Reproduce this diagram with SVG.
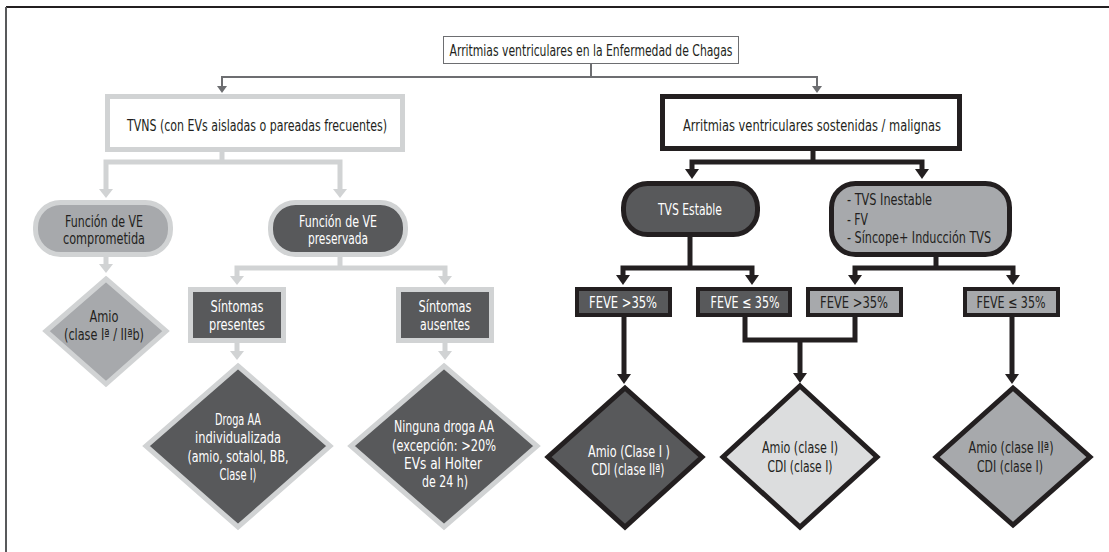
<svg xmlns="http://www.w3.org/2000/svg" width="1109" height="552" viewBox="0 0 1109 552">
<style>
.t{font-family:"Liberation Sans Narrow","DejaVu Sans Condensed","Liberation Sans",sans-serif;font-size:16px;text-anchor:middle}
.w{fill:#ffffff}
.k{fill:#231f20}
.lg{fill:none;stroke:#d1d3d4;stroke-width:5}
.bk{fill:none;stroke:#231f20;stroke-width:5}
.gr{fill:none;stroke:#6d6e71;stroke-width:2}
.nlg{stroke:#d1d3d4;stroke-width:5}
.nbk{stroke:#231f20;stroke-width:5}
.dark{fill:#58595b}
.mid{fill:#a7a9ac}
.light{fill:#dcddde}
</style>
<defs>
<marker id="aGR" markerUnits="userSpaceOnUse" markerWidth="20" markerHeight="20" refX="0" refY="0" orient="auto-start-reverse" overflow="visible"><path d="M0,-5 L7,0 L0,5 z" fill="#6d6e71"/></marker>
<marker id="aLG" markerUnits="userSpaceOnUse" markerWidth="20" markerHeight="20" refX="0" refY="0" orient="auto-start-reverse" overflow="visible"><path d="M0,-7 L9,0 L0,7 z" fill="#d1d3d4"/></marker>
<marker id="aBK" markerUnits="userSpaceOnUse" markerWidth="20" markerHeight="20" refX="0" refY="0" orient="auto-start-reverse" overflow="visible"><path d="M0,-7 L10,0 L0,7 z" fill="#231f20"/></marker>
</defs>
<rect x="0" y="0" width="1109" height="552" fill="#ffffff"/>
<g id="frame">
<path d="M6,7 H1109" stroke="#231f20" stroke-width="2" fill="none"/>
<path d="M6,7 V552" stroke="#58595b" stroke-width="2" fill="none"/>
</g>
<g id="connectors">
<path class="gr" d="M591,64 V77"/>
<path class="gr" d="M222,86 V77 H817 V86" marker-start="url(#aGR)" marker-end="url(#aGR)"/>
<path class="lg" d="M222,152 V162"/>
<path class="lg" d="M106,189 V162 H340 V189" marker-start="url(#aLG)" marker-end="url(#aLG)"/>
<path class="lg" d="M106,257 V264" marker-end="url(#aLG)"/>
<path class="lg" d="M340,257 V268"/>
<path class="lg" d="M237,276 V268 H445 V276" marker-start="url(#aLG)" marker-end="url(#aLG)"/>
<path class="lg" d="M237,343 V351" marker-end="url(#aLG)"/>
<path class="lg" d="M445,343 V351" marker-end="url(#aLG)"/>
<path class="bk" d="M813,151 V162"/>
<path class="bk" d="M692,169 V162 H922 V169" marker-start="url(#aBK)" marker-end="url(#aBK)"/>
<path class="bk" d="M690,237 V268"/>
<path class="bk" d="M623,275 V268 H752 V275" marker-start="url(#aBK)" marker-end="url(#aBK)"/>
<path class="bk" d="M936,257 V268"/>
<path class="bk" d="M855,275 V268 H1013 V275" marker-start="url(#aBK)" marker-end="url(#aBK)"/>
<path class="bk" d="M624,317 V374" marker-end="url(#aBK)"/>
<path class="bk" d="M745,317 V340 H855 V317"/>
<path class="bk" d="M800,340 V373" marker-end="url(#aBK)"/>
<path class="bk" d="M1012,317 V374" marker-end="url(#aBK)"/>
</g>
<g id="title">
<rect x="443.5" y="36.5" width="295" height="27" fill="#ffffff" stroke="#6d6e71" stroke-width="1"/>
<text class="t k" x="591" y="55.5" style="font-size:15px" textLength="283" lengthAdjust="spacingAndGlyphs">Arritmias ventriculares en la Enfermedad de Chagas</text>
</g>
<g id="tvns">
<rect x="107.5" y="96.5" width="295" height="53" fill="#ffffff" class="nlg"/>
<text class="t k" x="257" y="131" textLength="260" lengthAdjust="spacingAndGlyphs">TVNS (con EVs aisladas o pareadas frecuentes)</text>
</g>
<g id="sostenidas">
<rect x="662.5" y="96.5" width="297" height="52" fill="#ffffff" class="nbk"/>
<text class="t k" x="812" y="131" textLength="258" lengthAdjust="spacingAndGlyphs">Arritmias ventriculares sostenidas / malignas</text>
</g>
<g id="comprometida">
<rect x="35.5" y="202.5" width="135" height="52" rx="25" class="mid nlg"/>
<text class="t k" x="104" y="227" textLength="78" lengthAdjust="spacingAndGlyphs">Función de VE</text>
<text class="t k" x="104" y="244" textLength="82" lengthAdjust="spacingAndGlyphs">comprometida</text>
</g>
<g id="preservada">
<rect x="270.5" y="202.5" width="135" height="52" rx="25" class="dark nlg"/>
<text class="t w" x="338" y="227" textLength="78" lengthAdjust="spacingAndGlyphs">Función de VE</text>
<text class="t w" x="338" y="244" textLength="60" lengthAdjust="spacingAndGlyphs">preservada</text>
</g>
<g id="amio-left">
<polygon points="106,279 166,331 106,384 46,331" class="mid nlg"/>
<text class="t k" x="104" y="322" textLength="29" lengthAdjust="spacingAndGlyphs">Amio</text>
<text class="t k" x="104" y="340" textLength="80" lengthAdjust="spacingAndGlyphs">(clase Iª / IIªb)</text>
</g>
<g id="presentes">
<rect x="190.5" y="289.5" width="93" height="51" class="dark nlg"/>
<text class="t w" x="237" y="312" textLength="53" lengthAdjust="spacingAndGlyphs">Síntomas</text>
<text class="t w" x="237" y="330" textLength="56" lengthAdjust="spacingAndGlyphs">presentes</text>
</g>
<g id="ausentes">
<rect x="398.5" y="289.5" width="93" height="51" class="dark nlg"/>
<text class="t w" x="445" y="312" textLength="53" lengthAdjust="spacingAndGlyphs">Síntomas</text>
<text class="t w" x="445" y="330" textLength="50" lengthAdjust="spacingAndGlyphs">ausentes</text>
</g>
<g id="droga">
<polygon points="238,366 330,446 238,527 146,446" class="dark nlg"/>
<text class="t w" x="238" y="425" textLength="46" lengthAdjust="spacingAndGlyphs">Droga AA</text>
<text class="t w" x="238" y="443" textLength="86" lengthAdjust="spacingAndGlyphs">individualizada</text>
<text class="t w" x="238" y="462" textLength="101" lengthAdjust="spacingAndGlyphs">(amio, sotalol, BB,</text>
<text class="t w" x="238" y="480" textLength="37" lengthAdjust="spacingAndGlyphs">Clase I)</text>
</g>
<g id="ninguna">
<polygon points="444,366 537,446 444,527 351,446" class="dark nlg"/>
<text class="t w" x="444" y="432" textLength="100" lengthAdjust="spacingAndGlyphs">Ninguna droga AA</text>
<text class="t w" x="444" y="451" textLength="104" lengthAdjust="spacingAndGlyphs">(excepción: &gt;20%</text>
<text class="t w" x="443" y="469" textLength="78" lengthAdjust="spacingAndGlyphs">EVs al Holter</text>
<text class="t w" x="445" y="487" textLength="46" lengthAdjust="spacingAndGlyphs">de 24 h)</text>
</g>
<g id="tvs-estable">
<rect x="623.5" y="183.5" width="134" height="51" rx="24" class="dark nbk"/>
<text class="t w" x="690" y="215" textLength="64" lengthAdjust="spacingAndGlyphs">TVS Estable</text>
</g>
<g id="tvs-inestable">
<rect x="831.5" y="183.5" width="178" height="71" rx="24" class="mid nbk"/>
<text class="t k" x="847" y="205" style="text-anchor:start" textLength="85" lengthAdjust="spacingAndGlyphs">- TVS Inestable</text>
<text class="t k" x="847" y="225" style="text-anchor:start" textLength="21" lengthAdjust="spacingAndGlyphs">- FV</text>
<text class="t k" x="847" y="243" style="text-anchor:start" textLength="144" lengthAdjust="spacingAndGlyphs">- Síncope+ Inducción TVS</text>
</g>
<g id="feve1">
<rect x="577" y="289" width="93" height="26" class="dark" stroke="#231f20" stroke-width="4"/>
<text class="t w" x="623" y="308" textLength="68" lengthAdjust="spacingAndGlyphs">FEVE &gt;35%</text>
</g>
<g id="feve2">
<rect x="698" y="289" width="92" height="26" class="dark" stroke="#231f20" stroke-width="4"/>
<text class="t w" x="745" y="308" textLength="69" lengthAdjust="spacingAndGlyphs">FEVE ≤ 35%</text>
</g>
<g id="feve3">
<rect x="808" y="289" width="93" height="26" class="mid" stroke="#231f20" stroke-width="4"/>
<text class="t k" x="854" y="308" textLength="68" lengthAdjust="spacingAndGlyphs">FEVE &gt;35%</text>
</g>
<g id="feve4">
<rect x="965" y="289" width="93" height="26" class="mid" stroke="#231f20" stroke-width="4"/>
<text class="t k" x="1011" y="308" textLength="69" lengthAdjust="spacingAndGlyphs">FEVE ≤ 35%</text>
</g>
<g id="result1">
<polygon points="625,388 702,457 625,527 548,457" class="dark nbk"/>
<text class="t w" x="629" y="457" textLength="82" lengthAdjust="spacingAndGlyphs">Amio (Clase I )</text>
<text class="t w" x="628" y="475" textLength="73" lengthAdjust="spacingAndGlyphs">CDI (clase IIª)</text>
</g>
<g id="result2">
<polygon points="800,386 877,457 800,527 723,457" class="light nbk"/>
<text class="t k" x="800" y="453" textLength="76" lengthAdjust="spacingAndGlyphs">Amio (clase I)</text>
<text class="t k" x="800" y="472" textLength="65" lengthAdjust="spacingAndGlyphs">CDI (clase I)</text>
</g>
<g id="result3">
<polygon points="1013,388 1090,457 1013,525 936,457" class="mid nbk"/>
<text class="t k" x="1011" y="453" textLength="85" lengthAdjust="spacingAndGlyphs">Amio (clase IIª)</text>
<text class="t k" x="1010" y="472" textLength="66" lengthAdjust="spacingAndGlyphs">CDI (clase I)</text>
</g>
</svg>
